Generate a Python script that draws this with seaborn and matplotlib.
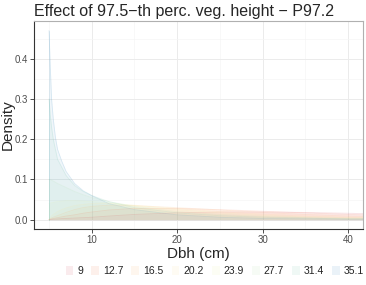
import matplotlib
matplotlib.use('AGG')
import matplotlib.pyplot as plt
from matplotlib.patches import Patch
import seaborn as sns
import pandas as pd

# levels of P97.2 (legend)
levels = ['9', '12.7', '16.5', '20.2', '23.9', '27.7', '31.4', '35.1']
colors = ['#D53E4F', '#F46D43', '#FDAE61', '#FEE08B',
          '#E6F598', '#ABDDA4', '#66C2A5', '#3288BD']

dbh = [5, 5.15, 5.3, 5.5, 5.75, 6, 6.5, 7, 8, 9, 10, 12, 15, 20, 25, 30, 35, 40, 42]

# density curves, one per level
d_9    = [0, 0.0003, 0.0006, 0.001, 0.0014, 0.0018, 0.0025, 0.003, 0.004, 0.005, 0.006, 0.009, 0.013, 0.017, 0.019, 0.019, 0.018, 0.016, 0.015]
d_12_7 = [0, 0.001, 0.002, 0.003, 0.004, 0.005, 0.007, 0.009, 0.012, 0.016, 0.019, 0.024, 0.028, 0.028, 0.025, 0.021, 0.017, 0.013, 0.012]
d_16_5 = [0, 0.002, 0.004, 0.006, 0.008, 0.010, 0.014, 0.018, 0.025, 0.030, 0.033, 0.036, 0.035, 0.030, 0.024, 0.018, 0.013, 0.009, 0.008]
d_20_2 = [0, 0.005, 0.009, 0.013, 0.016, 0.020, 0.025, 0.029, 0.035, 0.038, 0.040, 0.040, 0.036, 0.028, 0.020, 0.014, 0.009, 0.006, 0.005]
d_23_9 = [0.040, 0.041, 0.042, 0.043, 0.044, 0.045, 0.046, 0.047, 0.047, 0.046, 0.045, 0.042, 0.035, 0.025, 0.017, 0.011, 0.007, 0.005, 0.004]
d_27_7 = [0.100, 0.099, 0.098, 0.096, 0.093, 0.090, 0.085, 0.080, 0.070, 0.062, 0.055, 0.045, 0.033, 0.020, 0.013, 0.008, 0.005, 0.003, 0.003]
d_31_4 = [0.300, 0.260, 0.230, 0.200, 0.175, 0.150, 0.130, 0.110, 0.085, 0.070, 0.060, 0.045, 0.030, 0.017, 0.010, 0.006, 0.004, 0.002, 0.002]
d_35_1 = [0.470, 0.380, 0.300, 0.250, 0.205, 0.175, 0.145, 0.120, 0.090, 0.072, 0.060, 0.040, 0.025, 0.012, 0.006, 0.003, 0.002, 0.001, 0.001]

curves = [d_9, d_12_7, d_16_5, d_20_2, d_23_9, d_27_7, d_31_4, d_35_1]

rows = []
for lev, ys in zip(levels, curves):
    for x, y in zip(dbh, ys):
        rows.append({'Dbh': x, 'Density': y, 'P97.2': lev})
df = pd.DataFrame(rows)

sns.set_style('white')
plt.rcParams['font.family'] = ['Liberation Sans', 'DejaVu Sans']

fig, ax = plt.subplots(figsize=(3.66, 2.85), dpi=100)
fig.subplots_adjust(left=0.093, right=0.992, top=0.926, bottom=0.196)

pal = dict(zip(levels, colors))
sns.lineplot(data=df, x='Dbh', y='Density', hue='P97.2', palette=pal,
             alpha=0.15, linewidth=0.6, legend=False, ax=ax, zorder=3)
for lev in levels:
    sub = df[df['P97.2'] == lev]
    ax.fill_between(sub['Dbh'], 0, sub['Density'], color=pal[lev],
                    alpha=0.07, linewidth=0, zorder=2)
    ax.plot([5, 5], [0, sub['Density'].iloc[0]], color=pal[lev],
            alpha=0.15, linewidth=0.6, zorder=3)

ax.set_xlim(3.25, 41.75)
ax.set_ylim(-0.0235, 0.4935)
ax.set_xticks([10, 20, 30, 40])
ax.set_xticks([5, 15, 25, 35], minor=True)
ax.set_yticks([0.0, 0.1, 0.2, 0.3, 0.4])
ax.set_yticks([0.05, 0.15, 0.25, 0.35, 0.45], minor=True)
ax.set_yticklabels(['0.0', '0.1', '0.2', '0.3', '0.4'])
ax.grid(which='major', color='#EBEBEB', linewidth=0.7, zorder=0)
ax.grid(which='minor', color='#F5F5F5', linewidth=0.5, zorder=0)
ax.set_axisbelow(True)

for s in ['top', 'right']:
    ax.spines[s].set_color('#B0B0B0')
    ax.spines[s].set_linewidth(0.8)
for s in ['left', 'bottom']:
    ax.spines[s].set_color('#333333')
    ax.spines[s].set_linewidth(0.8)

ax.tick_params(axis='both', which='major', length=3, width=0.6, color='#333333',
               labelsize=7, labelcolor='#4D4D4D', pad=1.5, left=True, bottom=True)
ax.tick_params(axis='both', which='minor', length=0)

ax.set_xlabel('Dbh (cm)', fontsize=11, labelpad=1)
ax.set_ylabel('Density', fontsize=11)
ax.yaxis.set_label_coords(-0.06, 0.5)
ax.set_title('Effect of 97.5\u2212th perc. veg. height \u2212 P97.2',
             fontsize=11.5, loc='left', pad=4)

handles = [Patch(facecolor=c, alpha=0.1, edgecolor='none') for c in colors]
fig.legend(handles, levels, loc='center right', bbox_to_anchor=(0.995, 0.049), ncol=8,
           frameon=False, fontsize=7.5, handlelength=0.75, handleheight=0.9,
           handletextpad=0.4, columnspacing=0.75, labelcolor='#222222',
           borderaxespad=0, borderpad=0)

fig.savefig('out.png', dpi=100)
